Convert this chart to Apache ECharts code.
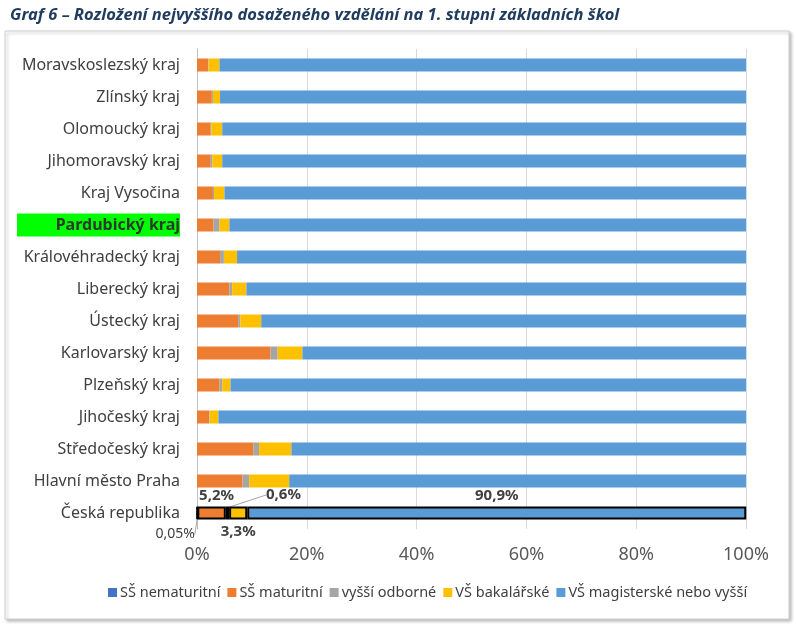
<!DOCTYPE html>
<html>
<head>
<meta charset="utf-8">
<script src="https://cdn.jsdelivr.net/npm/echarts@6/dist/echarts.min.js"></script>
<style>
  html, body { margin: 0; padding: 0; background: #fff; }
  #chart { width: 796px; height: 631px; }
</style>
</head>
<body>
<div id="chart"></div>
<script>
// kraje odshora dolu
var categories = ['Moravskoslezský kraj', 'Zlínský kraj', 'Olomoucký kraj', 'Jihomoravský kraj',
  'Kraj Vysočina', 'Pardubický kraj', 'Královéhradecký kraj', 'Liberecký kraj', 'Ústecký kraj',
  'Karlovarský kraj', 'Plzeňský kraj', 'Jihočeský kraj', 'Středočeský kraj', 'Hlavní město Praha',
  'Česká republika'];
var seriesNames = ['SŠ nematuritní', 'SŠ maturitní', 'vyšší odborné', 'VŠ bakalářské', 'VŠ magisterské nebo vyšší'];
var nematuritni = [0, 0, 0, 0, 0, 0, 0, 0, 0, 0, 0, 0, 0, 0, 0.05];
var maturitni = [2.0, 2.7, 2.5, 2.5, 2.9, 3.0, 4.2, 5.9, 7.5, 13.4, 4.1, 2.2, 10.3, 8.3, 5.2];
var vyssiOdborne = [0.1, 0.2, 0.1, 0.3, 0.2, 1.1, 0.7, 0.5, 0.4, 1.3, 0.5, 0.1, 1.0, 1.2, 0.6];
var bakalarske = [2.0, 1.3, 2.0, 1.8, 1.9, 1.8, 2.4, 2.6, 3.8, 4.5, 1.5, 1.6, 5.9, 7.3, 3.3];
var magisterske = [95.9, 95.8, 95.4, 95.4, 95.0, 94.1, 92.7, 91.0, 88.3, 80.8, 93.9, 96.1, 82.8, 83.2, 90.9];
var xTicks = [0, 20, 40, 60, 80, 100];

var colors = ['#4472C4', '#ED7D31', '#A5A5A5', '#FFC000', '#5B9BD5'];
var highlight = 'Pardubický kraj';
var FONT = 'Noto Sans';

var chart = echarts.init(document.getElementById('chart'));

function fmt(v) {
  return String(v).replace('.', ',') + '%';
}

// posledni radek (CR) ma cerne ohraniceni a popisky
function buildData(values, labelOpt) {
  return values.map(function (v, i) {
    if (i !== values.length - 1) return v;
    var item = {
      value: v,
      itemStyle: { borderColor: '#000', borderWidth: 2 }
    };
    if (labelOpt) item.label = labelOpt;
    return item;
  });
}

var labelBase = {
  show: true,
  fontFamily: FONT,
  fontSize: 15,
  fontWeight: 'bold',
  color: '#404040',
  formatter: function (p) { return fmt(p.value); }
};

var seriesData = [nematuritni, maturitni, vyssiOdborne, bakalarske, magisterske];
var labelPos = [
  Object.assign({}, labelBase, { position: 'bottom', fontSize: 14, fontWeight: 'normal' }),
  Object.assign({}, labelBase, { position: 'top', distance: 3 }),
  Object.assign({}, labelBase, { position: 'top', distance: 3 }),
  Object.assign({}, labelBase, { position: 'bottom', distance: 5 }),
  Object.assign({}, labelBase, { position: 'top', distance: 3 })
];
var layouts = [
  { dx: -22, dy: 2 },
  { dx: 5 },
  { dx: 56, dy: -1 },
  null,
  null
];

var series = seriesNames.map(function (name, k) {
  var s = {
    name: name,
    type: 'bar',
    stack: 'total',
    barWidth: 13,
    color: colors[k],
    data: buildData(seriesData[k], labelPos[k]),
    label: { show: false },
    emphasis: { disabled: true }
  };
  if (layouts[k]) {
    s.labelLayout = layouts[k];
    if (k !== 1) s.labelLine = { show: true, lineStyle: { color: '#A5A5A5', width: 1 } };
  }
  return s;
});

var option = {
  animation: false,
  backgroundColor: '#fff',
  title: {
    text: 'Graf 6 – Rozložení nejvyššího dosaženého vzdělání na 1. stupni základních škol',
    left: 5,
    top: 2,
    textStyle: {
      fontFamily: FONT,
      fontStyle: 'italic',
      fontWeight: 'bold',
      fontSize: 16.5,
      color: '#1F3B5E'
    }
  },
  graphic: [{
    type: 'rect',
    shape: { x: 5, y: 31, width: 784, height: 588 },
    style: {
      fill: '#fff',
      stroke: '#D0D0D0',
      lineWidth: 1,
      shadowBlur: 3,
      shadowOffsetX: 2,
      shadowOffsetY: 2,
      shadowColor: 'rgba(0,0,0,0.25)'
    },
    z: -10
  }],
  legend: {
    data: seriesNames,
    bottom: 26,
    left: 103,
    itemWidth: 9,
    itemHeight: 9,
    itemGap: 7,
    icon: 'rect',
    textStyle: {
      fontFamily: FONT,
      fontSize: 14.5,
      color: '#404040',
      padding: [0, 0, 0, -2]
    }
  },
  grid: {
    left: 197,
    right: 50,
    top: 49,
    bottom: 102
  },
  xAxis: {
    type: 'value',
    min: xTicks[0],
    max: xTicks[xTicks.length - 1],
    interval: 20,
    axisLine: { show: false },
    axisTick: { show: false },
    splitLine: { lineStyle: { color: '#D9D9D9', width: 1 } },
    axisLabel: {
      formatter: '{value}%',
      fontFamily: FONT,
      fontSize: 18,
      color: '#595959',
      margin: 17
    }
  },
  yAxis: {
    type: 'category',
    inverse: true,
    data: categories,
    axisLine: { show: true, lineStyle: { color: '#BFBFBF' } },
    axisTick: { show: false },
    axisLabel: {
      fontFamily: FONT,
      fontSize: 16,
      color: '#404040',
      margin: 17,
      formatter: function (v) {
        return v === highlight ? '{hl|' + v + '}' : v;
      },
      rich: {
        hl: {
          fontFamily: FONT,
          fontSize: 16,
          fontWeight: 'bold',
          color: '#2B3A2B',
          backgroundColor: '#00FF00',
          width: 159,
          align: 'right',
          padding: [4, 0, 3, 4]
        }
      }
    }
  },
  series: series
};

chart.setOption(option);
</script>
</body>
</html>
